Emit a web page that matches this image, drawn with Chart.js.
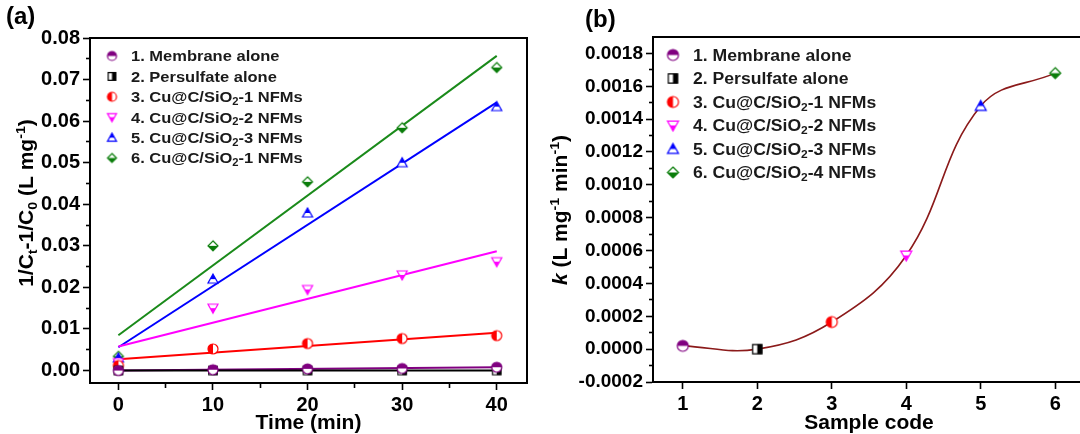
<!DOCTYPE html>
<html>
<head>
<meta charset="utf-8">
<script src="https://cdn.jsdelivr.net/npm/chart.js@4.4.1/dist/chart.umd.min.js"></script>
<style>
    body { margin: 0; background: #fff; width: 1080px; height: 434px; overflow: hidden; position: relative; font-family: "Liberation Sans", Arial, sans-serif; }
    .panel { position: absolute; top: 0; height: 434px; }
    #panelA { left: 0; width: 540px; }
    #panelB { left: 540px; width: 550px; }
    .tag { position: absolute; font-weight: bold; font-size: 24px; line-height: 1; color: #000; }
</style>
</head>
<body>
<div class="panel" id="panelA"><canvas id="chartA" width="540" height="434"></canvas></div>
<div class="panel" id="panelB"><canvas id="chartB" width="550" height="434"></canvas></div>
<div class="tag" style="left:6px;top:4px">(a)</div>
<div class="tag" style="left:585px;top:7px">(b)</div>

<script>
// ---- panel (a): 1/Ct - 1/C0 vs time ----
const times = [0, 10, 20, 30, 40];
const membrane   = [0.0000, 0.0002, 0.0004, 0.0005, 0.0008];
const persulfate = [0.0000, 0.0000, 0.0000, 0.0000, 0.0000];
const cuc1 = [0.0012, 0.0052, 0.0065, 0.0077, 0.0084];
const cuc2 = [0.0019, 0.0150, 0.0195, 0.0230, 0.0262];
const cuc3 = [0.0030, 0.0220, 0.0379, 0.0500, 0.0635];
const cuc4 = [0.0034, 0.0300, 0.0454, 0.0584, 0.0729];

// linear fits, value at t = 0 and t = 40
const fitTimes = [0, 40];
const fitMembrane   = [0.0000, 0.0008];
const fitPersulfate = [0.0000, 0.0000];
const fitCuc1 = [0.0027, 0.0091];
const fitCuc2 = [0.0058, 0.0287];
const fitCuc3 = [0.0056, 0.0645];
const fitCuc4 = [0.0085, 0.0757];

const xMajorA = [0, 10, 20, 30, 40];
const xMinorA = [5, 15, 25, 35];
const yMajorA = [0, 0.01, 0.02, 0.03, 0.04, 0.05, 0.06, 0.07, 0.08];
const yMinorA = [0.005, 0.015, 0.025, 0.035, 0.045, 0.055, 0.065, 0.075];

const legendA = ['1. Membrane alone', '2. Persulfate alone', '3. Cu@C/SiO_{2}-1 NFMs',
                 '4. Cu@C/SiO_{2}-2 NFMs', '5. Cu@C/SiO_{2}-3 NFMs', '6. Cu@C/SiO_{2}-1 NFMs'];

// ---- panel (b): rate constant vs sample ----
const sampleCodes = [1, 2, 3, 4, 5, 6];
const rateK = [0.00002, 0.0, 0.000165, 0.00057, 0.00148, 0.00168];

const xMajorB = [1, 2, 3, 4, 5, 6];
const yMajorB = [-0.0002, 0, 0.0002, 0.0004, 0.0006, 0.0008, 0.0010, 0.0012, 0.0014, 0.0016, 0.0018];
const yMinorB = [-0.0001, 0.0001, 0.0003, 0.0005, 0.0007, 0.0009, 0.0011, 0.0013, 0.0015, 0.0017];

const legendB = ['1. Membrane alone', '2. Persulfate alone', '3. Cu@C/SiO_{2}-1 NFMs',
                 '4. Cu@C/SiO_{2}-2 NFMs', '5. Cu@C/SiO_{2}-3 NFMs', '6. Cu@C/SiO_{2}-4 NFMs'];

// marker styles, same order as the series
const seriesStyle = [
    { color: '#800080', shape: 'circle',  half: 'top' },
    { color: '#000000', shape: 'square',  half: 'right' },
    { color: '#ff0000', shape: 'circle',  half: 'left' },
    { color: '#ff00ff', shape: 'triDown', half: 'bottom' },
    { color: '#0000ff', shape: 'triUp',   half: 'top' },
    { color: '#0a7d0a', shape: 'diamond', half: 'bottom' }
];

const FONT = '"Liberation Sans", Arial, sans-serif';
Chart.defaults.font.family = FONT;
Chart.defaults.font.weight = 'bold';
Chart.defaults.color = '#000';

// half filled markers, like the Origin ones
function makeMarker(style, size) {
    const c = document.createElement('canvas');
    const s = size + 4;
    c.width = s; c.height = s;
    const g = c.getContext('2d');
    const m = s / 2, r = size / 2;
    function path() {
        g.beginPath();
        if (style.shape === 'circle') g.arc(m, m, r, 0, Math.PI * 2);
        else if (style.shape === 'square') g.rect(m - r * 0.85, m - r * 0.85, r * 1.7, r * 1.7);
        else if (style.shape === 'triUp') { g.moveTo(m, m - r); g.lineTo(m + r, m + r * 0.8); g.lineTo(m - r, m + r * 0.8); g.closePath(); }
        else if (style.shape === 'triDown') { g.moveTo(m, m + r); g.lineTo(m + r, m - r * 0.8); g.lineTo(m - r, m - r * 0.8); g.closePath(); }
        else if (style.shape === 'diamond') { g.moveTo(m, m - r); g.lineTo(m + r, m); g.lineTo(m, m + r); g.lineTo(m - r, m); g.closePath(); }
    }
    path();
    g.fillStyle = '#fff';
    g.fill();
    g.save();
    g.beginPath();
    if (style.half === 'top') g.rect(0, 0, s, m);
    else if (style.half === 'bottom') g.rect(0, m, s, s);
    else if (style.half === 'left') g.rect(0, 0, m, s);
    else g.rect(m, 0, s, s);
    g.clip();
    path();
    g.fillStyle = style.color;
    g.fill();
    g.restore();
    path();
    g.strokeStyle = style.color;
    g.lineWidth = 1.2;
    g.stroke();
    return c;
}

// text with _{sub}, ^{sup} and *{italic}
function parseRich(str) {
    const parts = [];
    const re = /([_^*])\{([^}]*)\}/g;
    let last = 0, m;
    while ((m = re.exec(str))) {
        if (m.index > last) parts.push({ t: str.slice(last, m.index), k: '' });
        parts.push({ t: m[2], k: m[1] });
        last = re.lastIndex;
    }
    if (last < str.length) parts.push({ t: str.slice(last), k: '' });
    return parts;
}

// the original figure is a bit stretched sideways, so text gets a small x scale
function drawRich(ctx, str, x, y, size, align, rotate, color, stretch) {
    const parts = parseRich(str);
    const fontOf = (p) => {
        const sz = (p.k === '_' || p.k === '^') ? size * 0.68 : size;
        return (p.k === '*' ? 'italic ' : '') + 'bold ' + sz + 'px ' + FONT;
    };
    ctx.save();
    ctx.translate(x, y);
    if (rotate) ctx.rotate(rotate);
    ctx.scale(stretch || 1, 1);
    ctx.textBaseline = 'alphabetic';
    ctx.textAlign = 'left';
    ctx.fillStyle = color || '#000';
    let total = 0;
    parts.forEach(p => { ctx.font = fontOf(p); p.w = ctx.measureText(p.t).width; total += p.w; });
    let cx = align === 'center' ? -total / 2 : 0;
    const base = size * 0.36;
    parts.forEach(p => {
        ctx.font = fontOf(p);
        let dy = 0;
        if (p.k === '_') dy = size * 0.18;
        if (p.k === '^') dy = -size * 0.4;
        ctx.fillText(p.t, cx, base + dy);
        cx += p.w;
    });
    ctx.restore();
}

function legendPlugin(labels, markers, x, textX, y0, step, size) {
    return {
        id: 'insideLegend',
        afterDraw(chart) {
            const ctx = chart.ctx;
            labels.forEach((label, i) => {
                const y = y0 + i * step;
                const img = markers[i];
                ctx.drawImage(img, x - img.width / 2, y - img.height / 2);
                drawRich(ctx, label, textX, y, size, 'left', 0, '#1a1a1a', 1.1);
            });
        }
    };
}

function yTitlePlugin(text, x, y, size) {
    return {
        id: 'yTitle',
        afterDraw(chart) {
            drawRich(chart.ctx, text, x, y, size, 'center', -Math.PI / 2, '#000', 1.05);
        }
    };
}

const framePlugin = {
    id: 'frame',
    afterDraw(chart) {
        const a = chart.chartArea;
        const ctx = chart.ctx;
        ctx.save();
        ctx.strokeStyle = '#000';
        ctx.lineWidth = 2;
        ctx.strokeRect(a.left, a.top, a.right - a.left, a.bottom - a.top);
        ctx.restore();
    }
};

function tickAxis(major, minor, fmt, size, side) {
    const all = major.concat(minor).sort((a, b) => a - b);
    const isMajor = (v) => major.some(m => Math.abs(m - v) < 1e-9);
    return {
        afterBuildTicks: (scale) => { scale.ticks = all.map(v => ({ value: v })); },
        ticks: {
            autoSkip: false,
            maxRotation: 0,
            padding: 3,
            font: { size: size, weight: 'bold' },
            callback: (v) => isMajor(v) ? fmt(v) : ''
        },
        grid: {
            drawOnChartArea: false,
            drawTicks: true,
            tickLength: 7,
            tickColor: '#000',
            tickWidth: 1.6,
            tickBorderDash: (c) => isMajor(c.tick.value) ? [] : [4, 100],
            tickBorderDashOffset: (c) => (side === 'left' && !isMajor(c.tick.value)) ? 101 : 0
        },
        border: { display: true, color: '#000', width: 2 }
    };
}

function pts(xs, ys) {
    return xs.map((x, i) => ({ x: x, y: ys[i] }));
}

// ---------- chart (a) ----------
const seriesA = [membrane, persulfate, cuc1, cuc2, cuc3, cuc4];
const fitsA = [fitMembrane, fitPersulfate, fitCuc1, fitCuc2, fitCuc3, fitCuc4];
const markersA = seriesStyle.map(s => makeMarker(s, 10));
const legendMarkersA = seriesStyle.map(s => makeMarker(s, 9));

const datasetsA = [];
seriesA.forEach((ys, i) => {
    datasetsA.push({
        data: pts(times, ys),
        showLine: false,
        pointStyle: markersA[i],
        order: 0
    });
});
fitsA.forEach((ys, i) => {
    datasetsA.push({
        data: pts(fitTimes, ys),
        showLine: true,
        borderColor: i === 5 ? '#1a8a1a' : seriesStyle[i].color,
        borderWidth: 2,
        pointRadius: 0,
        order: i === 0 ? 3 : 2
    });
});

const xA = tickAxis(xMajorA, xMinorA, v => String(v), 20, 'bottom');
xA.type = 'linear';
xA.min = -3;
xA.max = 43.2;
xA.afterFit = (scale) => { scale.height = 51; };
xA.title = { display: true, text: 'Time (min)', font: { size: 21, weight: 'bold', lineHeight: 1 }, padding: 0, color: '#000' };

const yA = tickAxis(yMajorA, yMinorA, v => v.toFixed(2), 20, 'left');
yA.type = 'linear';
yA.min = -0.003;
yA.max = 0.08;
yA.afterFit = (scale) => { scale.width = 90; };

new Chart(document.getElementById('chartA'), {
    type: 'scatter',
    data: { datasets: datasetsA },
    options: {
        responsive: false,
        animation: false,
        devicePixelRatio: 1,
        layout: { padding: { left: 0, top: 38, right: 13, bottom: 0 } },
        plugins: { legend: { display: false }, tooltip: { enabled: false } },
        scales: { x: xA, y: yA }
    },
    plugins: [
        framePlugin,
        legendPlugin(legendA, legendMarkersA, 112, 131, 56, 20.4, 15),
        yTitlePlugin('1/C_{t}-1/C_{0} (L mg^{-1})', 26, 203, 20)
    ]
});

// ---------- chart (b) ----------
const markersB = seriesStyle.map(s => makeMarker(s, 11));
const datasetsB = sampleCodes.map((x, i) => ({
    data: [{ x: x, y: rateK[i] }],
    showLine: false,
    pointStyle: markersB[i],
    order: 0
}));
datasetsB.push({
    data: pts(sampleCodes, rateK),
    showLine: true,
    tension: 0.4,
    borderColor: '#8b1a1a',
    borderWidth: 1.6,
    pointRadius: 0,
    order: 1
});

const xB = tickAxis(xMajorB, [], v => String(v), 20, 'bottom');
xB.type = 'linear';
xB.min = 0.6;
xB.max = 6.4;
xB.afterFit = (scale) => { scale.height = 52; };
xB.title = { display: true, text: 'Sample code', font: { size: 21, weight: 'bold', lineHeight: 1 }, padding: 0, color: '#000' };

const yB = tickAxis(yMajorB, yMinorB, v => v.toFixed(4), 19, 'left');
yB.type = 'linear';
yB.min = -0.0002;
yB.max = 0.0019;
yB.afterFit = (scale) => { scale.width = 113; };

new Chart(document.getElementById('chartB'), {
    type: 'scatter',
    data: { datasets: datasetsB },
    options: {
        responsive: false,
        animation: false,
        devicePixelRatio: 1,
        layout: { padding: { left: 0, top: 37, right: 2, bottom: 0 } },
        plugins: { legend: { display: false }, tooltip: { enabled: false } },
        scales: { x: xB, y: yB }
    },
    plugins: [
        framePlugin,
        legendPlugin(legendB, markersB, 133, 153, 55, 23.5, 16),
        yTitlePlugin('*{k} (L mg^{-1} min^{-1})', 20, 210, 20)
    ]
});
</script>
</body>
</html>
